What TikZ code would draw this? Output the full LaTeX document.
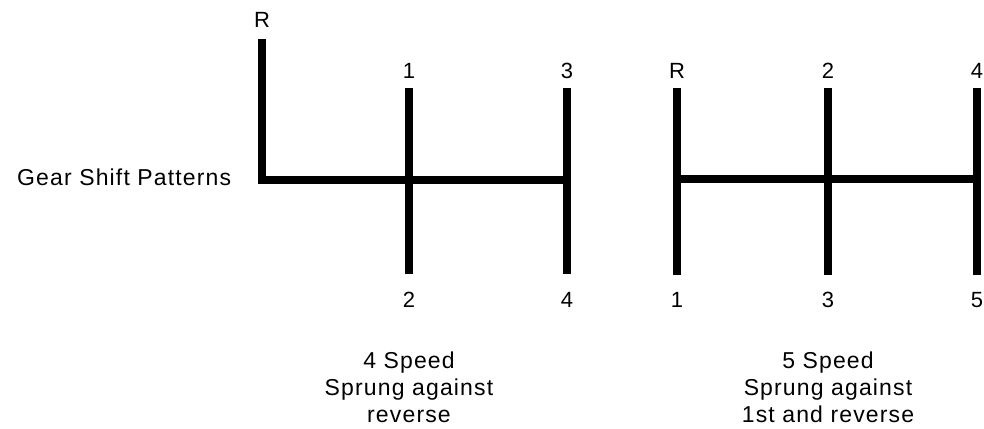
\documentclass[tikz,border=0pt]{standalone}
\usepackage{fontspec}
\setmainfont{Liberation Sans}[LetterSpace=5]
\usetikzlibrary{positioning}

\begin{document}
\begin{tikzpicture}[x=1pt,y=-1pt,
    gate/.style={line width=7.5pt, line cap=butt, line join=miter},
    gearlabel/.style={font=\fontsize{22}{26}\selectfont, inner sep=0pt, anchor=base},
    caption/.style={align=center, font=\fontsize{23}{27}\selectfont, inner sep=0pt, anchor=base}]
\useasboundingbox (0,0) rectangle (984,428);

% Title on the left
\node[gearlabel, font=\fontsize{23}{26}\selectfont, anchor=base west] (title) at (17,185) {Gear Shift Patterns};

% 4 speed pattern
\coordinate (rtop) at (262,39);
\coordinate (rcorner) at (262,180);
\foreach \col/\xpos in {a/409, b/567} {
    \coordinate (\col top) at (\xpos,88);
    \coordinate (\col bot) at (\xpos,274);
    \coordinate (\col mid) at (\xpos,180);
}
\draw[gate] (rtop) -- (rcorner) -- (bmid);
\draw[gate] (atop) -- (abot);
\draw[gate] (btop) -- (bbot);

% 4 speed gear numbers
\node[gearlabel] (fourR) at (262,28) {R};
\foreach \name/\xpos/\ypos/\gear in {fourA/409/78/1, fourB/409/307/2, fourC/567/78/3, fourD/567/307/4} {
    \node[gearlabel] (\name) at (\xpos,\ypos) {\gear};
}

% 5 speed pattern
\foreach \col/\xpos in {c/677, d/828, e/977} {
    \coordinate (\col top) at (\xpos,88);
    \coordinate (\col bot) at (\xpos,275);
    \coordinate (\col mid) at (\xpos,179);
    \draw[gate] (\col top) -- (\col bot);
}
\draw[gate] (cmid) -- (emid);

% 5 speed gear numbers
\foreach \name/\xpos/\ypos/\gear in {fiveA/677/78/R, fiveB/677/307/1, fiveC/828/78/2,
                                     fiveD/828/307/3, fiveE/977/78/4, fiveF/977/307/5} {
    \node[gearlabel] (\name) at (\xpos,\ypos) {\gear};
}

% Captions (base = last line)
\node[caption] (capfour) at (409,422) {4 Speed\\Sprung against\\reverse};
\node[caption] (capfive) at (828,422) {5 Speed\\Sprung against\\1st and reverse};

\end{tikzpicture}
\end{document}
